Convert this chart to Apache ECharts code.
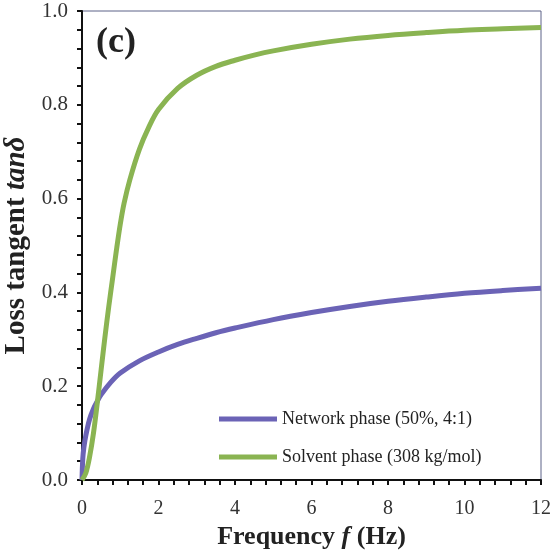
<!DOCTYPE html>
<html>
<head>
<meta charset="utf-8">
<script src="https://cdn.jsdelivr.net/npm/echarts@6/dist/echarts.min.js"></script>
<style>
  html, body { margin: 0; padding: 0; background: #fff; }
  #chart { width: 554px; height: 552px; }
</style>
</head>
<body>
<div id="chart"></div>
<script>
// frequency f (Hz) -> loss tangent
var networkF = [0, 0.02, 0.05, 0.1, 0.2, 0.3, 0.4, 0.5, 0.75, 1, 1.5, 2, 2.5, 3, 3.5, 4, 5, 6, 7, 8, 9, 10, 11, 12];
var networkTan = [0, 0.045, 0.07, 0.095, 0.13, 0.152, 0.168, 0.182, 0.208, 0.228, 0.254, 0.273, 0.289, 0.302, 0.314, 0.324, 0.342, 0.357, 0.37, 0.381, 0.39, 0.398, 0.404, 0.409];

var solventF = [0, 0.1, 0.2, 0.3, 0.4, 0.5, 0.6, 0.7, 0.8, 0.9, 1, 1.1, 1.25, 1.5, 1.75, 2, 2.5, 3, 3.5, 4, 4.5, 5, 6, 7, 8, 9, 10, 11, 12];
var solventTan = [0, 0.015, 0.05, 0.1, 0.165, 0.235, 0.305, 0.37, 0.43, 0.49, 0.545, 0.59, 0.64, 0.705, 0.753, 0.79, 0.835, 0.863, 0.882, 0.895, 0.906, 0.915, 0.929, 0.94, 0.948, 0.954, 0.959, 0.962, 0.965];

var seriesNames = ['Network phase (50%, 4:1)', 'Solvent phase (308 kg/mol)'];

function pairs(xs, ys) {
  return xs.map(function (x, i) { return [x, ys[i]]; });
}

var serif = '"Liberation Serif", "DejaVu Serif", serif';
var chart = echarts.init(document.getElementById('chart'));

chart.setOption({
  animation: false,
  backgroundColor: '#fff',
  grid: {
    left: 82, right: 13, top: 11, bottom: 72,
    containLabel: false, outerBoundsMode: 'none',
    show: true, borderColor: '#5d6288', borderWidth: 1
  },
  legend: {
    orient: 'vertical',
    left: 214, top: 405,
    itemWidth: 58, itemHeight: 5, itemGap: 20,
    textStyle: { fontFamily: serif, fontSize: 18, color: '#222' },
    data: seriesNames.map(function (n) { return { name: n, icon: 'rect' }; })
  },
  xAxis: {
    type: 'value', min: 0, max: 12, interval: 2,
    name: '{b|Frequency }{i|f}{b| (Hz)}',
    nameLocation: 'middle', nameGap: 43,
    nameTextStyle: {
      rich: {
        b: { fontFamily: serif, fontWeight: 'bold', fontSize: 26, color: '#222' },
        i: { fontFamily: serif, fontWeight: 'bold', fontStyle: 'italic', fontSize: 26, color: '#222' }
      }
    },
    axisLine: { lineStyle: { color: '#111', width: 2 } },
    axisTick: { inside: false, length: 5, lineStyle: { color: '#111', width: 2 } },
    minorTick: { show: true, splitNumber: 5, length: 5, lineStyle: { color: '#111', width: 2 } },
    axisLabel: { fontFamily: serif, fontSize: 20, color: '#333', margin: 19 },
    splitLine: { show: false }
  },
  yAxis: {
    type: 'value', min: 0, max: 1, interval: 0.2,
    name: '{b|Loss tangent }{i|tanδ}',
    nameLocation: 'middle', nameGap: 46,
    nameTextStyle: {
      rich: {
        b: { fontFamily: serif, fontWeight: 'bold', fontSize: 29, color: '#222' },
        i: { fontFamily: serif, fontWeight: 'bold', fontStyle: 'italic', fontSize: 29, color: '#222' }
      }
    },
    axisLine: { lineStyle: { color: '#111', width: 2 } },
    axisTick: { inside: false, length: 5, lineStyle: { color: '#111', width: 2 } },
    minorTick: { show: true, splitNumber: 5, length: 5, lineStyle: { color: '#111', width: 2 } },
    axisLabel: {
      fontFamily: serif, fontSize: 21, color: '#333', margin: 14,
      formatter: function (v) { return v.toFixed(1); }
    },
    splitLine: { show: false }
  },
  graphic: [{
    type: 'text', left: 96, top: 25,
    style: { text: '(c)', font: 'bold 36px ' + serif, fill: '#222' }
  }],
  series: [{
    name: seriesNames[0], type: 'line', smooth: 0.35, showSymbol: false,
    itemStyle: { color: '#6b63b6' },
    lineStyle: { color: '#6b63b6', width: 5 },
    data: pairs(networkF, networkTan)
  }, {
    name: seriesNames[1], type: 'line', smooth: 0.35, showSymbol: false,
    itemStyle: { color: '#8ab452' },
    lineStyle: { color: '#8ab452', width: 5 },
    data: pairs(solventF, solventTan)
  }]
});
</script>
</body>
</html>
